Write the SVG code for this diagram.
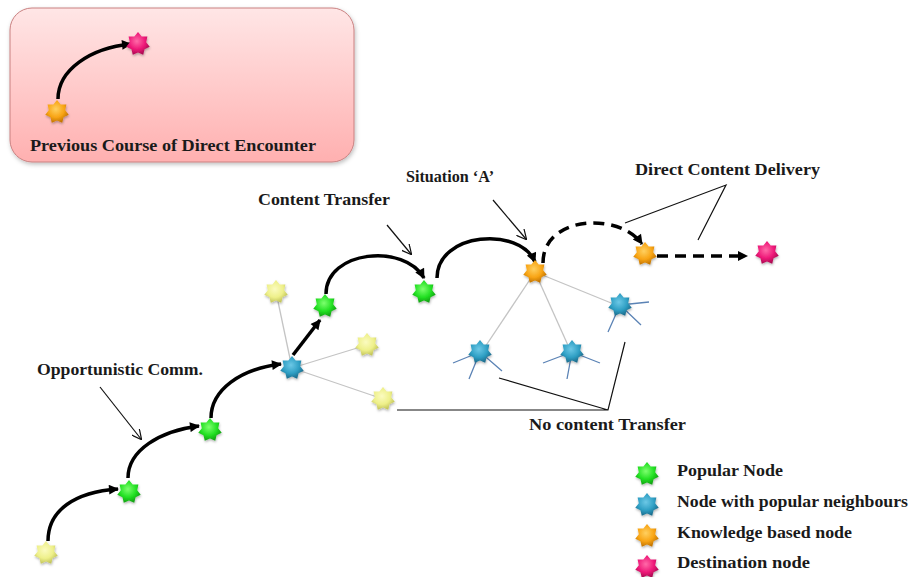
<svg xmlns="http://www.w3.org/2000/svg" width="911" height="577" viewBox="0 0 911 577">
<style>
text{font-family:"Liberation Serif","Times New Roman",serif;font-weight:bold;font-size:16px;fill:#1a1a1a}
.arc{fill:none;stroke:#000;stroke-width:3.5;marker-end:url(#ah)}
.dash{fill:none;stroke:#000;stroke-width:3.5;stroke-dasharray:11 7;marker-end:url(#ah)}
.call{fill:none;stroke:#111;stroke-width:1.2}
.gray{stroke:#c4c4c4;stroke-width:1.3;fill:none}
.tend{stroke:#5b83b5;stroke-width:1.3;fill:none}
.sg{fill:url(#gG)}.sy{fill:url(#gY)}.sb{fill:url(#gB)}.so{fill:url(#gO)}.sm{fill:url(#gM)}
use{filter:url(#sh)}
</style>
<defs>
<path id="star" d="M0,-12 L3.64,-7.57 L9.38,-7.48 L8.19,-1.87 L11.7,2.67 L6.57,5.24 L5.21,10.81 L0,8.4 L-5.21,10.81 L-6.57,5.24 L-11.7,2.67 L-8.19,-1.87 L-9.38,-7.48 L-3.64,-7.57 Z" stroke-linejoin="round"/>
<radialGradient id="gG" cx="0.45" cy="0.4" r="0.6"><stop offset="0" stop-color="#7dff6e"/><stop offset="0.6" stop-color="#22e022"/><stop offset="1" stop-color="#12a012"/></radialGradient>
<radialGradient id="gY" cx="0.45" cy="0.4" r="0.6"><stop offset="0" stop-color="#fbfbc0"/><stop offset="0.6" stop-color="#eef08a"/><stop offset="1" stop-color="#c2c45a"/></radialGradient>
<radialGradient id="gB" cx="0.45" cy="0.4" r="0.6"><stop offset="0" stop-color="#6cc8e6"/><stop offset="0.6" stop-color="#2f9fc4"/><stop offset="1" stop-color="#1c6c8c"/></radialGradient>
<radialGradient id="gO" cx="0.45" cy="0.4" r="0.6"><stop offset="0" stop-color="#ffd060"/><stop offset="0.6" stop-color="#f8a414"/><stop offset="1" stop-color="#c27400"/></radialGradient>
<radialGradient id="gM" cx="0.45" cy="0.4" r="0.6"><stop offset="0" stop-color="#ff6aa8"/><stop offset="0.6" stop-color="#ee1878"/><stop offset="1" stop-color="#a80a50"/></radialGradient>
<linearGradient id="box" x1="0" y1="0" x2="0" y2="1"><stop offset="0" stop-color="#ffe6e6"/><stop offset="1" stop-color="#ffb0b0"/></linearGradient>
<filter id="sh" x="-30%" y="-30%" width="160%" height="170%"><feDropShadow dx="0.5" dy="1.5" stdDeviation="1" flood-color="#000" flood-opacity="0.3"/></filter>
<filter id="bsh" x="-5%" y="-5%" width="110%" height="115%"><feDropShadow dx="1" dy="2" stdDeviation="2" flood-color="#000" flood-opacity="0.25"/></filter>
<marker id="ah" viewBox="0 0 10 10" refX="9" refY="5" markerWidth="12" markerHeight="10" markerUnits="userSpaceOnUse" orient="auto"><path d="M0,0 L10,5 L0,10 Z" fill="#000"/></marker>
<marker id="oa" viewBox="0 0 10 10" refX="9" refY="5" markerWidth="10" markerHeight="10" markerUnits="userSpaceOnUse" orient="auto"><path d="M0,0 L10,5 L0,10" fill="none" stroke="#111" stroke-width="1.2"/></marker>
</defs>

<g id="previous-box">
<rect x="10" y="8" width="344" height="154" rx="22" fill="url(#box)" stroke="#c98080" stroke-width="1" filter="url(#bsh)"/>
<path class="arc" d="M58,99 C58,70 90,48 131,44"/>
<use href="#star" x="57" y="112" class="so"/>
<use href="#star" x="138" y="44" class="sm"/>
<text x="30" y="151" textLength="286" lengthAdjust="spacingAndGlyphs">Previous Course of Direct Encounter</text>
</g>

<g id="connectors">
<line class="gray" x1="292" y1="368" x2="276" y2="292"/>
<line class="gray" x1="292" y1="368" x2="367" y2="345"/>
<line class="gray" x1="292" y1="368" x2="383" y2="399"/>
<line class="gray" x1="535" y1="272" x2="481" y2="353"/>
<line class="gray" x1="535" y1="272" x2="571" y2="352"/>
<line class="gray" x1="535" y1="272" x2="621" y2="307"/>
<path class="tend" d="M620,305 L649,302 M620,305 L641,325 M620,305 L608,332"/>
<path class="tend" d="M480,352 L453,363 M480,352 L469,379 M480,352 L502,371"/>
<path class="tend" d="M572,352 L543,363 M572,352 L567,379 M572,352 L600,363"/>
<path class="arc" d="M48,541 C48,510 75,492 118,489"/>
<path class="arc" d="M128,478 C128,450 160,431 199,426"/>
<path class="arc" d="M211,418 C211,390 240,369 281,364"/>
<path class="arc" d="M293,355 L320,320"/>
<path class="arc" d="M326,294 C326,250 405,243 424,278"/>
<path class="arc" d="M437,278 C437,232 520,226 535,262"/>
<path class="dash" d="M543,263 C543,215 620,212 642,244"/>
<path class="dash" d="M657,256 L747,256"/>
<line class="call" x1="100" y1="387" x2="141" y2="439" marker-end="url(#oa)"/>
<line class="call" x1="387" y1="225" x2="411" y2="254" marker-end="url(#oa)"/>
<line class="call" x1="493" y1="200" x2="526" y2="239" marker-end="url(#oa)"/>
<path class="call" d="M625,223 L726,185 L698,240"/>
<path class="call" d="M397,410 L608,410 L625,342 M608,410 L499,378"/>
</g>

<g id="nodes">
<g id="n-yellow-start"><use href="#star" x="46" y="553" class="sy"/></g>
<g id="n-green-1"><use href="#star" x="129" y="492" class="sg"/></g>
<g id="n-green-2"><use href="#star" x="210" y="430" class="sg"/></g>
<g id="n-blue-hub"><use href="#star" x="292" y="368" class="sb"/></g>
<g id="n-yellow-top"><use href="#star" x="276" y="292" class="sy"/></g>
<g id="n-green-3"><use href="#star" x="325" y="306" class="sg"/></g>
<g id="n-yellow-mid"><use href="#star" x="367" y="345" class="sy"/></g>
<g id="n-yellow-low"><use href="#star" x="383" y="399" class="sy"/></g>
<g id="n-green-4"><use href="#star" x="424" y="292" class="sg"/></g>
<g id="n-orange-a"><use href="#star" x="535" y="272" class="so"/></g>
<g id="n-blue-right"><use href="#star" x="620" y="305" class="sb"/></g>
<g id="n-blue-left"><use href="#star" x="480" y="352" class="sb"/></g>
<g id="n-blue-mid"><use href="#star" x="572" y="352" class="sb"/></g>
<g id="n-orange-b"><use href="#star" x="645" y="254" class="so"/></g>
<g id="n-dest"><use href="#star" x="767" y="253" class="sm"/></g>
</g>

<g id="labels">
<text x="37" y="375" textLength="166" lengthAdjust="spacingAndGlyphs">Opportunistic Comm.</text>
<text x="258" y="205" textLength="132" lengthAdjust="spacingAndGlyphs">Content Transfer</text>
<text x="406" y="182" textLength="88" lengthAdjust="spacingAndGlyphs">Situation ‘A’</text>
<text x="635" y="175" textLength="185" lengthAdjust="spacingAndGlyphs">Direct Content Delivery</text>
<text x="529" y="430" textLength="157" lengthAdjust="spacingAndGlyphs">No content Transfer</text>
</g>

<g id="legend">
<g id="leg-popular"><use href="#star" x="647" y="474" class="sg"/><text x="677" y="476" textLength="106" lengthAdjust="spacingAndGlyphs">Popular Node</text></g>
<g id="leg-neigh"><use href="#star" x="647" y="505" class="sb"/><text x="677" y="507" textLength="231" lengthAdjust="spacingAndGlyphs">Node with popular neighbours</text></g>
<g id="leg-know"><use href="#star" x="647" y="536" class="so"/><text x="677" y="538" textLength="175" lengthAdjust="spacingAndGlyphs">Knowledge based node</text></g>
<g id="leg-dest"><use href="#star" x="647" y="567" class="sm"/><text x="677" y="568" textLength="133" lengthAdjust="spacingAndGlyphs">Destination node</text></g>
</g>
</svg>
